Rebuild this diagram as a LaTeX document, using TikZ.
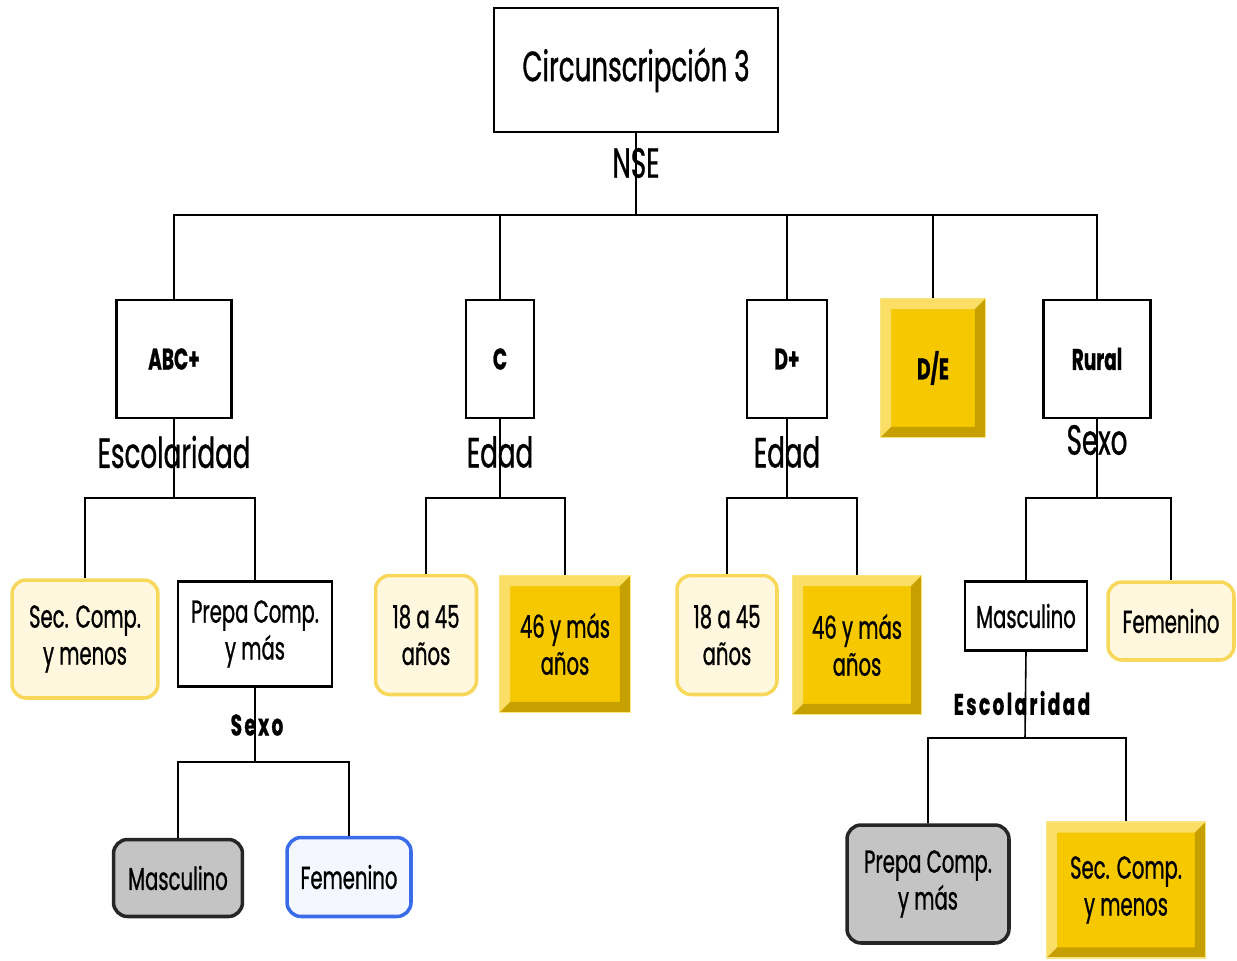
\documentclass[tikz,border=0pt]{standalone}
\usepackage{fontspec}
\setmainfont[FakeStretch=0.62,FakeBold=0.8]{Poppins}
\definecolor{oro}{RGB}{246,200,0}
\definecolor{crema}{RGB}{255,248,222}
\definecolor{bordocrema}{RGB}{247,216,90}
\definecolor{grigio}{RGB}{196,196,196}
\definecolor{blu}{RGB}{58,107,232}
\definecolor{azzurrino}{RGB}{244,247,255}

\begin{document}
\begin{tikzpicture}[x=0.02cm,y=-0.02cm]
% area del disegno
\useasboundingbox (0,0) rectangle (1237,960);
% definizione caratteri
\tikzset{grande/.style={font=\fontsize{24pt}{27pt}\selectfont}}
\tikzset{medio/.style={font=\fontsize{18pt}{21pt}\selectfont}}
\tikzset{piccolo/.style={font=\bfseries\fontsize{17pt}{21pt}\selectfont}}
\tikzset{spaziato/.style={font=\bfseries\fontsize{17pt}{21pt}\selectfont\addfontfeature{LetterSpace=8}}}
% definizione delle caratteristiche dei nodi
\tikzset{cella/.style={rectangle,draw,line width=1.2pt,fill=white,align=center}}
\tikzset{crema/.style={rectangle,rounded corners=8pt,draw=bordocrema,line width=2pt,fill=crema,align=center}}
\tikzset{grigia/.style={rectangle,rounded corners=8pt,draw=black!85,line width=2pt,fill=grigio,align=center}}
\tikzset{bluastra/.style={rectangle,rounded corners=8pt,draw=blu,line width=2pt,fill=azzurrino,align=center}}
\tikzset{smusso/.style={rectangle,fill=oro,draw=oro!50!white,line width=1pt,align=center,
  path picture={
   \fill[oro!60!white] (path picture bounding box.north west) -- (path picture bounding box.north east)
     -- ([shift={(-6pt,-6pt)}]path picture bounding box.north east) -- ([shift={(6pt,-6pt)}]path picture bounding box.north west)
     -- ([shift={(6pt,6pt)}]path picture bounding box.south west) -- (path picture bounding box.south west) -- cycle;
   \fill[oro!80!black] (path picture bounding box.south east) -- (path picture bounding box.south west)
     -- ([shift={(6pt,6pt)}]path picture bounding box.south west) -- ([shift={(-6pt,6pt)}]path picture bounding box.south east)
     -- ([shift={(-6pt,-6pt)}]path picture bounding box.north east) -- (path picture bounding box.north east) -- cycle;
  }}}
\tikzset{linea/.style={line width=0.9pt}}

%----
% nodo principale
\node[cella,grande,minimum width=5.68cm,minimum height=2.48cm] (top) at (636,70) {Circunscripción 3};
% nodi del primo livello
\foreach \n/\x/\w/\t in {abc/174/2.3/ABC+,c/500/1.36/C,dp/787/1.6/D+,rural/1097/2.14/Rural}
\node[cella,piccolo,minimum width=\w cm,minimum height=2.36cm] (\n) at (\x,359) {\t};
\node[smusso,piccolo,minimum width=2.1cm,minimum height=2.78cm] (de) at (933,368) {D/E};

% figli di ABC+
\node[crema,medio,minimum width=2.92cm,minimum height=2.36cm] (sec1) at (85,639) {Sec. Comp.\\y menos};
\node[cella,medio,minimum width=3.08cm,minimum height=2.1cm] (prepa1) at (255,634) {Prepa Comp.\\y más};
\node[grigia,medio,minimum width=2.58cm,minimum height=1.54cm] (masc1) at (178,878) {Masculino};
\node[bluastra,medio,minimum width=2.48cm,minimum height=1.58cm] (fem1) at (349,877) {Femenino};
% figli di C e D+
\node[crema,medio,minimum width=2.02cm,minimum height=2.38cm] (ca) at (426,635) {18 a 45\\años};
\node[smusso,medio,minimum width=2.62cm,minimum height=2.74cm] (cb) at (565,644) {46 y más\\años};
\node[crema,medio,minimum width=2.0cm,minimum height=2.38cm] (da) at (727,635) {18 a 45\\años};
\node[smusso,medio,minimum width=2.58cm,minimum height=2.78cm] (db) at (857,645) {46 y más\\años};
% figli di Rural
\node[cella,medio,minimum width=2.44cm,minimum height=1.38cm] (masc2) at (1026,616) {Masculino};
\node[crema,medio,minimum width=2.52cm,minimum height=1.56cm] (fem2) at (1171,621) {Femenino};
\node[grigia,medio,minimum width=3.24cm,minimum height=2.36cm] (prepa2) at (928,884) {Prepa Comp.\\y más};
\node[smusso,medio,minimum width=3.18cm,minimum height=2.72cm] (sec2) at (1126,890) {Sec. Comp.\\y menos};

% punti di diramazione
\coordinate (bus) at (636,215);
\coordinate (jabc) at (174,498);
\coordinate (jc) at (500,498);
\coordinate (jdp) at (787,498);
\coordinate (jrural) at (1097,498);
\coordinate (jprepa) at (255,762);
\coordinate (jmasc) at (1025,738);

% inserimento path
\foreach \n in {abc,c,dp,de,rural}
\draw[linea] (top.south) -- (bus) -| (\n.north);
\foreach \p/\j/\a/\b in {abc/jabc/sec1/prepa1,c/jc/ca/cb,dp/jdp/da/db,rural/jrural/masc2/fem2,prepa1/jprepa/masc1/fem1,masc2/jmasc/prepa2/sec2}
{\draw[linea] (\p.south) -- (\j) -| (\a.north);
 \draw[linea] (\j) -| (\b.north);}

% inserimento label
\foreach \n/\x/\y/\t in {lnse/636/163/NSE,lesc/174/452/Escolaridad,ledad1/500/452/Edad,ledad2/787/452/Edad,lsexo1/1097/440/Sexo}
\node[grande] (\n) at (\x,\y) {\t};
\node[spaziato] (lsexo2) at (257,725) {Sexo};
\node[spaziato] (lesc2) at (1022,703) {Escolaridad};
\end{tikzpicture}
\end{document}
